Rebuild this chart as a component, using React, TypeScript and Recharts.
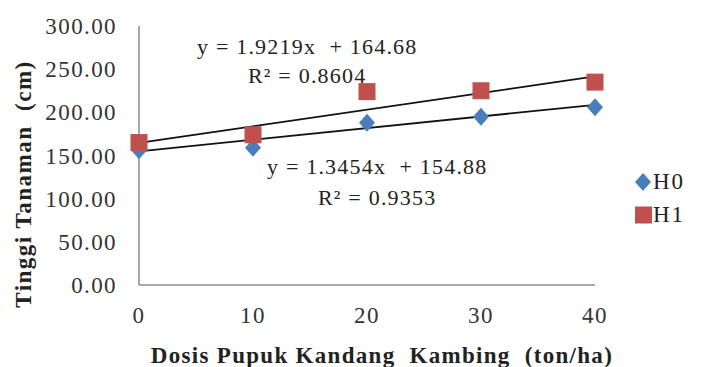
import React from "react";
import { ComposedChart, Line, Scatter, XAxis, YAxis } from "recharts";

const doses = [0, 10, 20, 30, 40];
const h0Values = [156, 159, 188, 195, 206];
const h1Values = [165, 174, 224, 225, 235];
const xTicks = [0, 10, 20, 30, 40];
const yTicks = [0, 50, 100, 150, 200, 250, 300];

// trend coefficients as printed on the chart
const h0Slope = 1.3454;
const h0Intercept = 154.88;
const h1Slope = 1.9219;
const h1Intercept = 164.68;

const BLUE = "#4a7ebb";
const RED = "#c0504d";
const FONT = '"Liberation Serif", "Times New Roman", serif';

const h0 = doses.map((x, i) => ({ x, y: h0Values[i] }));
const h1 = doses.map((x, i) => ({ x, y: h1Values[i] }));
const trendEnds = [doses[0], doses[doses.length - 1]];
const h0Trend = trendEnds.map((x) => ({ x, y: h0Slope * x + h0Intercept }));
const h1Trend = trendEnds.map((x) => ({ x, y: h1Slope * x + h1Intercept }));

const Diamond = (p: any) => (
  <polygon
    points={`${p.cx},${p.cy - 9} ${p.cx + 8},${p.cy} ${p.cx},${p.cy + 9} ${p.cx - 8},${p.cy}`}
    fill={BLUE}
  />
);
const Square = (p: any) => (
  <rect x={p.cx - 8.5} y={p.cy - 8.5} width={17} height={17} fill={RED} />
);

const LegendBox = () => (
  <div
    style={{
      position: "absolute",
      left: 634,
      top: 165,
      fontFamily: FONT,
      fontSize: 23,
      letterSpacing: 2,
      color: "#222",
      lineHeight: "33px",
    }}
  >
    <div style={{ display: "flex", alignItems: "center" }}>
      <svg width={18} height={18}>
        <polygon points="9,0 17,9 9,18 1,9" fill={BLUE} />
      </svg>
      <span style={{ marginLeft: 1 }}>H0</span>
    </div>
    <div style={{ display: "flex", alignItems: "center" }}>
      <svg width={18} height={18}>
        <rect x={1} y={0.5} width={17} height={17} fill={RED} />
      </svg>
      <span style={{ marginLeft: 1 }}>H1</span>
    </div>
  </div>
);

const note: React.CSSProperties = {
  position: "absolute",
  fontFamily: FONT,
  fontSize: 22,
  letterSpacing: 1.2,
  color: "#222",
  whiteSpace: "pre",
  lineHeight: "24px",
};

const tickStyle = { fill: "#333", fontSize: 23, fontFamily: FONT, letterSpacing: 1.4 };

const XTitle = (props: any) => {
  const vb = props.viewBox;
  return (
    <text
      x={vb.x + vb.width / 2 + 15}
      y={355}
      dy="0.35em"
      textAnchor="middle"
      fill="#222"
      fontFamily={FONT}
      fontSize={23}
      fontWeight="bold"
      letterSpacing={1.3}
      style={{ whiteSpace: "pre" }}
    >
      {"Dosis Pupuk Kandang  Kambing  (ton/ha)"}
    </text>
  );
};

const YTitle = () => (
  <text
    x={23}
    y={184}
    dy="0.35em"
    transform="rotate(-90 23 184)"
    textAnchor="middle"
    fill="#222"
    fontFamily={FONT}
    fontSize={23}
    fontWeight="bold"
    letterSpacing={1.5}
    style={{ whiteSpace: "pre" }}
  >
    {"Tinggi Tanaman  (cm)"}
  </text>
);

export default function App() {
  return (
    <div style={{ position: "absolute", left: 0, top: 0, width: 718, height: 367, background: "#fff" }}>
      <ComposedChart
        width={718}
        height={367}
        margin={{ top: 26, right: 123, bottom: 0, left: 39 }}
      >
        <XAxis
          dataKey="x"
          type="number"
          domain={[0, 40]}
          ticks={xTicks}
          height={82}
          tickLine={false}
          tickSize={0}
          tickMargin={22}
          axisLine={{ stroke: "#8c8c8c", strokeWidth: 1.5 }}
          tick={tickStyle}
          label={<XTitle />}
        />
        <YAxis
          type="number"
          domain={[0, 300]}
          ticks={yTicks}
          width={100}
          tickLine={false}
          tickSize={0}
          tickMargin={22}
          axisLine={{ stroke: "#8c8c8c", strokeWidth: 1.5 }}
          tickFormatter={(v: number) => v.toFixed(2)}
          tick={tickStyle}
          label={<YTitle />}
        />
        <Line
          data={h1Trend}
          dataKey="y"
          stroke="#111"
          strokeWidth={1.8}
          dot={false}
          legendType="none"
          isAnimationActive={false}
        />
        <Line
          data={h0Trend}
          dataKey="y"
          stroke="#111"
          strokeWidth={1.8}
          dot={false}
          legendType="none"
          isAnimationActive={false}
        />
        <Scatter name="H0" data={h0} dataKey="y" fill={BLUE} shape={Diamond} isAnimationActive={false} />
        <Scatter name="H1" data={h1} dataKey="y" fill={RED} shape={Square} isAnimationActive={false} />
      </ComposedChart>
      <LegendBox />
      <div style={{ ...note, left: 197, top: 35 }}>{"y = 1.9219x  + 164.68"}</div>
      <div style={{ ...note, left: 248, top: 64 }}>{"R² = 0.8604"}</div>
      <div style={{ ...note, left: 267, top: 155 }}>{"y = 1.3454x  + 154.88"}</div>
      <div style={{ ...note, left: 318, top: 186 }}>{"R² = 0.9353"}</div>
    </div>
  );
}
